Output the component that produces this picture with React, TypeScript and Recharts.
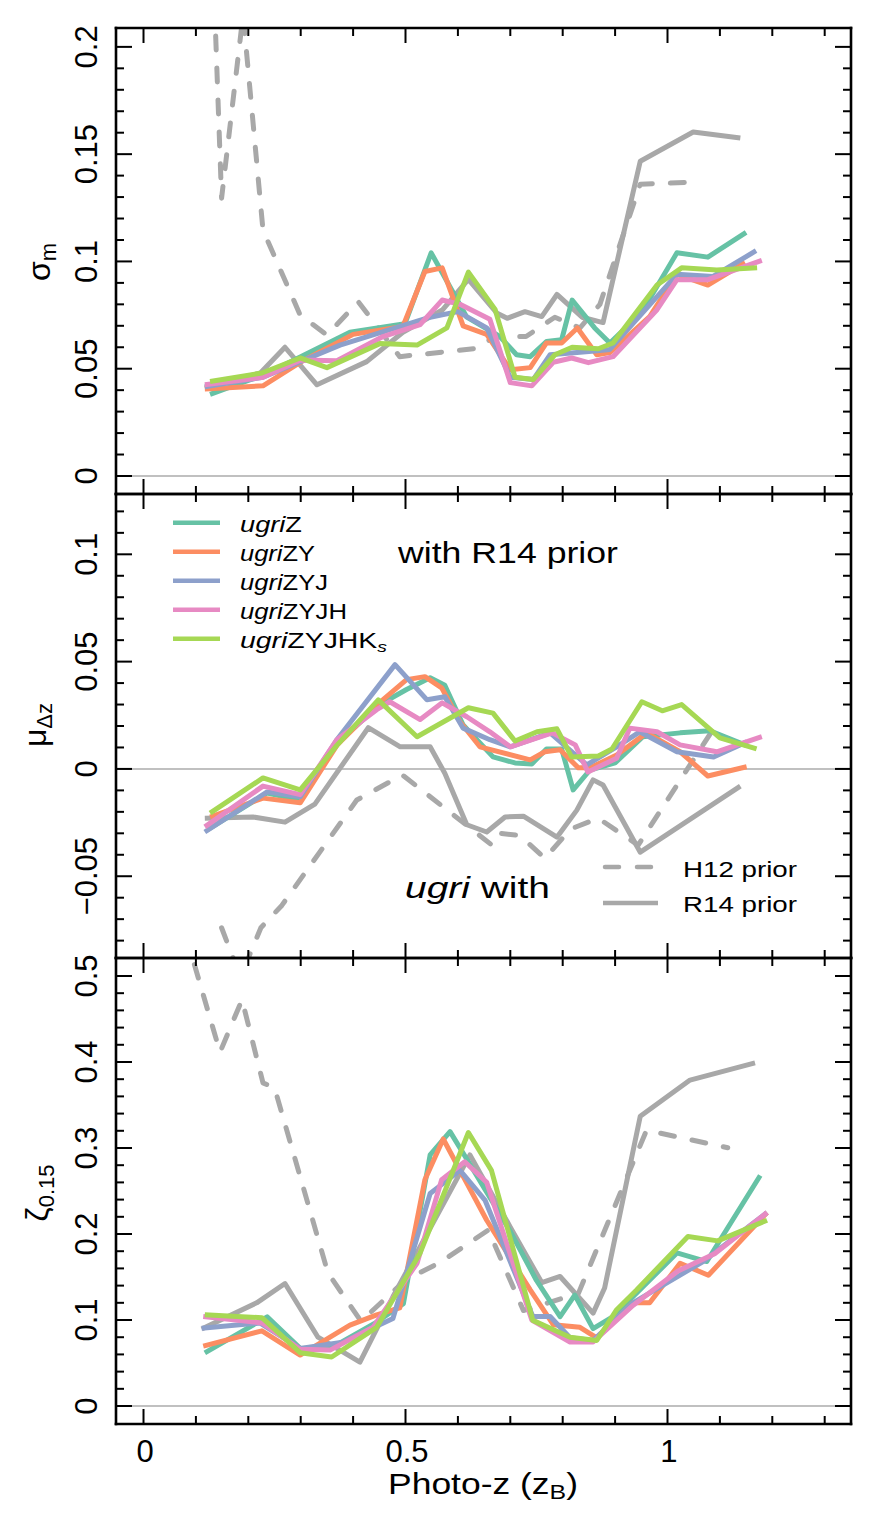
import React from 'react';
import { LineChart, Line, XAxis, YAxis, ReferenceLine } from 'recharts';

type Pt = [number, number];

// ---------------- data ----------------
const xTickValues = [0, 0.1, 0.2, 0.3, 0.4, 0.5, 0.6, 0.7, 0.8, 0.9, 1.0, 1.1, 1.2, 1.3];
const xTickLabelValues = [0, 0.5, 1];

const seriesNames = ['ugriZ', 'ugriZY', 'ugriZYJ', 'ugriZYJH', 'ugriZYJHKs'];
const priorNames = ['H12 prior', 'R14 prior'];

// Panel 1: sigma_m
const sigmaZ: Pt[] = [[0.127,0.038],[0.228,0.047],[0.299,0.0555],[0.394,0.067],[0.499,0.071],[0.549,0.104],[0.617,0.074],[0.68,0.065],[0.712,0.0565],[0.738,0.0556],[0.769,0.0627],[0.798,0.0635],[0.818,0.082],[0.861,0.069],[0.89,0.062],[0.95,0.076],[1.018,0.104],[1.077,0.102],[1.15,0.1135]];
const sigmaZY: Pt[] = [[0.117,0.0405],[0.228,0.042],[0.299,0.053],[0.40,0.066],[0.495,0.0697],[0.537,0.0953],[0.57,0.097],[0.61,0.070],[0.655,0.066],[0.70,0.0495],[0.738,0.0505],[0.769,0.062],[0.798,0.062],[0.828,0.069],[0.865,0.0565],[0.89,0.0575],[0.966,0.0743],[1.018,0.094],[1.077,0.089],[1.148,0.0995]];
const sigmaZYJ: Pt[] = [[0.117,0.0416],[0.228,0.046],[0.375,0.061],[0.547,0.074],[0.60,0.0766],[0.655,0.069],[0.70,0.046],[0.744,0.045],[0.776,0.0565],[0.85,0.058],[0.89,0.059],[1.018,0.094],[1.087,0.093],[1.169,0.105]];
const sigmaZYJH: Pt[] = [[0.117,0.0425],[0.228,0.046],[0.299,0.054],[0.369,0.0537],[0.457,0.065],[0.528,0.0706],[0.57,0.082],[0.604,0.080],[0.661,0.073],[0.70,0.0435],[0.741,0.042],[0.782,0.053],[0.817,0.055],[0.849,0.0528],[0.896,0.0556],[0.98,0.0775],[1.018,0.0915],[1.077,0.0915],[1.18,0.1005]];
const sigmaZYJHK: Pt[] = [[0.127,0.044],[0.226,0.048],[0.299,0.055],[0.35,0.0505],[0.451,0.0617],[0.522,0.061],[0.579,0.069],[0.62,0.095],[0.671,0.0776],[0.709,0.046],[0.744,0.045],[0.785,0.0565],[0.818,0.060],[0.868,0.0593],[0.896,0.062],[0.98,0.089],[1.027,0.097],[1.094,0.096],[1.171,0.097]];
const sigmaR14: Pt[] = [[0.117,0.041],[0.223,0.048],[0.27,0.06],[0.331,0.0425],[0.426,0.0533],[0.495,0.067],[0.571,0.0775],[0.62,0.0916],[0.674,0.076],[0.694,0.0735],[0.728,0.0766],[0.760,0.0743],[0.789,0.0846],[0.837,0.074],[0.877,0.0715],[0.948,0.1467],[1.049,0.1603],[1.139,0.1575]];
const sigmaH12: Pt[] = [[0.1355,0.22],[0.149,0.1295],[0.19,0.215],[0.228,0.1146],[0.299,0.075],[0.35,0.0657],[0.41,0.0812],[0.489,0.0556],[0.636,0.0595],[0.67,0.065],[0.73,0.065],[0.785,0.074],[0.833,0.069],[0.871,0.08],[0.948,0.136],[1.056,0.137]];

// Panel 2: mu_dz
const muZ: Pt[] = [[0.121,-0.0285],[0.236,-0.0112],[0.299,-0.0145],[0.369,0.012],[0.451,0.030],[0.502,0.037],[0.547,0.0425],[0.575,0.039],[0.61,0.0205],[0.667,0.0056],[0.709,0.0028],[0.741,0.0023],[0.769,0.0093],[0.798,0.0093],[0.82,-0.0098],[0.852,-0.0005],[0.9,0.0028],[0.953,0.015],[1.024,0.0168],[1.081,0.0178],[1.15,0.011]];
const muZY: Pt[] = [[0.127,-0.0224],[0.228,-0.0136],[0.299,-0.0158],[0.369,0.011],[0.451,0.031],[0.502,0.0416],[0.537,0.043],[0.569,0.0378],[0.604,0.022],[0.642,0.0103],[0.738,0.0042],[0.766,0.008],[0.795,0.0089],[0.83,0.0005],[0.852,0.0005],[0.903,0.0065],[0.96,0.0168],[1.024,0.008],[1.077,-0.0033],[1.151,0.001]];
const muZYJ: Pt[] = [[0.117,-0.0294],[0.236,-0.0107],[0.299,-0.013],[0.369,0.0136],[0.48,0.0486],[0.541,0.0322],[0.575,0.0336],[0.61,0.019],[0.661,0.0136],[0.70,0.0103],[0.776,0.0168],[0.846,0.0019],[0.903,0.0103],[0.947,0.0173],[1.018,0.008],[1.088,0.0056],[1.151,0.0126]];
const muZYJH: Pt[] = [[0.117,-0.027],[0.228,-0.008],[0.299,-0.012],[0.369,0.0136],[0.445,0.0276],[0.47,0.0313],[0.528,0.023],[0.57,0.0308],[0.617,0.0243],[0.661,0.0173],[0.70,0.0103],[0.78,0.0168],[0.824,0.0112],[0.848,-0.0014],[0.903,0.005],[0.928,0.019],[0.98,0.0173],[1.024,0.0112],[1.094,0.008],[1.18,0.015]];
const muZYJHK: Pt[] = [[0.127,-0.0206],[0.228,-0.0042],[0.299,-0.0098],[0.369,0.011],[0.448,0.0322],[0.522,0.015],[0.62,0.0285],[0.667,0.026],[0.709,0.013],[0.751,0.0173],[0.789,0.0187],[0.817,0.0056],[0.868,0.006],[0.894,0.0093],[0.951,0.0313],[0.99,0.0271],[1.027,0.030],[1.10,0.0145],[1.17,0.0093]];
const muR14: Pt[] = [[0.117,-0.023],[0.209,-0.0224],[0.27,-0.0248],[0.327,-0.0164],[0.429,0.0192],[0.49,0.0103],[0.547,0.0103],[0.575,-0.002],[0.617,-0.026],[0.655,-0.0294],[0.69,-0.0224],[0.725,-0.022],[0.789,-0.0318],[0.827,-0.0192],[0.858,-0.0051],[0.877,-0.0075],[0.948,-0.0388],[1.139,-0.008]];
const muH12: Pt[] = [[0.149,-0.074],[0.185,-0.097],[0.224,-0.074],[0.264,-0.0636],[0.407,-0.0145],[0.494,-0.0028],[0.665,-0.0355],[0.68,-0.030],[0.718,-0.031],[0.766,-0.0416],[0.815,-0.028],[0.868,-0.023],[0.944,-0.0355],[1.09,0.0196]];

// Panel 3: zeta_0.15
const zetaZ: Pt[] = [[0.117,0.0617],[0.236,0.1037],[0.299,0.067],[0.36,0.068],[0.44,0.0956],[0.496,0.119],[0.547,0.292],[0.585,0.319],[0.62,0.284],[0.70,0.203],[0.75,0.146],[0.795,0.104],[0.823,0.129],[0.858,0.090],[0.896,0.104],[1.018,0.178],[1.075,0.168],[1.177,0.268]];
const zetaZY: Pt[] = [[0.114,0.0696],[0.226,0.0874],[0.299,0.0593],[0.394,0.094],[0.445,0.106],[0.489,0.114],[0.537,0.263],[0.572,0.3105],[0.655,0.216],[0.738,0.135],[0.782,0.0946],[0.833,0.0915],[0.865,0.0793],[0.934,0.12],[0.966,0.12],[1.024,0.166],[1.078,0.152],[1.19,0.225]];
const zetaZYJ: Pt[] = [[0.111,0.0905],[0.222,0.0966],[0.299,0.067],[0.38,0.0742],[0.476,0.1017],[0.547,0.247],[0.604,0.274],[0.652,0.239],[0.743,0.104],[0.776,0.104],[0.814,0.0793],[0.858,0.0762],[0.934,0.12],[1.068,0.168],[1.19,0.225]];
const zetaZYJH: Pt[] = [[0.114,0.104],[0.226,0.0966],[0.299,0.066],[0.356,0.065],[0.438,0.0915],[0.522,0.166],[0.569,0.263],[0.613,0.284],[0.655,0.26],[0.741,0.1],[0.814,0.0744],[0.858,0.0744],[0.934,0.117],[1.02,0.157],[1.09,0.177],[1.19,0.225]];
const zetaZYJHK: Pt[] = [[0.117,0.106],[0.226,0.1027],[0.299,0.062],[0.359,0.057],[0.445,0.0915],[0.528,0.178],[0.62,0.318],[0.664,0.274],[0.743,0.0996],[0.814,0.08],[0.865,0.0762],[0.903,0.112],[0.941,0.135],[1.039,0.197],[1.096,0.192],[1.19,0.216]];
const zetaR14: Pt[] = [[0.111,0.0895],[0.216,0.12],[0.27,0.1424],[0.333,0.08],[0.413,0.051],[0.476,0.127],[0.623,0.292],[0.70,0.208],[0.76,0.1435],[0.795,0.1506],[0.858,0.108],[0.88,0.1373],[0.948,0.337],[1.043,0.379],[1.167,0.399]];
const zetaH12: Pt[] = [[0.08,0.549],[0.146,0.4114],[0.188,0.4724],[0.228,0.3757],[0.25,0.37],[0.352,0.1547],[0.415,0.0986],[0.50,0.1465],[0.566,0.167],[0.658,0.2046],[0.725,0.111],[0.83,0.131],[0.96,0.3207],[1.115,0.3003]];

// ---------------- styling ----------------
const FONT = '"Liberation Sans", Arial, Helvetica, sans-serif';
const COLORS = ['#66C2A5', '#FC8D62', '#8DA0CB', '#E78AC3', '#A6D854'];
const GRAY = '#A8A8A8';
const ZERO_GRAY = '#C0C0C0';
const DASH = '14 18';
const LINE_W = 5;
const W = 880;
const H = 1540;
const LEFT = 116;
const RIGHT = 851;
const X_DOMAIN: [number, number] = [-0.0525, 1.3502];

const range = (a: number, b: number) => Array.from({ length: b - a + 1 }, (_, i) => a + i);
const isMul = (v: number, step: number) => Math.abs(v / step - Math.round(v / step)) < 1e-6;
const fmt = (v: number) => String(parseFloat(v.toFixed(3))).replace('-', '\u2212');
const rows = (pts: Pt[]) => pts.map(([z, v]) => ({ z, v }));

type PanelCfg = {
  top: number;
  bottom: number;
  domain: [number, number];
  yTicks: number[];
  major: number;
  colored: Pt[][];
  h12: Pt[];
  r14: Pt[];
  xLabels: boolean;
};

const panels: PanelCfg[] = [
  { top: 28, bottom: 494, domain: [-0.0084, 0.2088], yTicks: range(0, 20).map((i) => i / 100), major: 0.05,
    colored: [sigmaZ, sigmaZY, sigmaZYJ, sigmaZYJH, sigmaZYJHK], h12: sigmaH12, r14: sigmaR14, xLabels: false },
  { top: 494, bottom: 958, domain: [-0.0881, 0.1281], yTicks: range(-8, 12).map((i) => i / 100), major: 0.05,
    colored: [muZ, muZY, muZYJ, muZYJH, muZYJHK], h12: muH12, r14: muR14, xLabels: false },
  { top: 958, bottom: 1424, domain: [-0.0209, 0.5209], yTicks: range(0, 25).map((i) => (i * 2) / 100), major: 0.1,
    colored: [zetaZ, zetaZY, zetaZYJ, zetaZYJH, zetaZYJHK], h12: zetaH12, r14: zetaR14, xLabels: true },
];

const coordOf = (p: any, fallback: number) => {
  const c = p && p.payload && typeof p.payload.coordinate === 'number' ? p.payload.coordinate : fallback;
  return c as number;
};

const xTick = (pos: number, dir: number, labels: boolean) => (p: any) => {
  const v = p.payload.value as number;
  const x = coordOf(p, p.x);
  const major = isMul(v, 0.5);
  const len = major ? 15 : 8;
  const showLabel = labels && xTickLabelValues.some((t) => Math.abs(t - v) < 1e-6);
  return (
    <g>
      <line x1={x} x2={x} y1={pos} y2={pos + dir * len} stroke="#000" strokeWidth={2} />
      {showLabel ? (
        <text x={x + 1.5} y={pos + 38} textAnchor="middle" fontSize={31} fontFamily={FONT} fill="#000">
          {fmt(v)}
        </text>
      ) : null}
    </g>
  );
};

const yTick = (pos: number, dir: number, majorStep: number, labels: boolean) => (p: any) => {
  const v = p.payload.value as number;
  const y = coordOf(p, p.y);
  const major = isMul(v, majorStep);
  const len = major ? 16 : 8;
  return (
    <g>
      <line x1={pos} x2={pos + dir * len} y1={y} y2={y} stroke="#000" strokeWidth={2} />
      {labels && major ? (
        <text x={97} y={y} transform={`rotate(-90 97 ${y})`} textAnchor="middle" fontSize={31} fontFamily={FONT} fill="#000">
          {fmt(v)}
        </text>
      ) : null}
    </g>
  );
};

const frameLine = { stroke: '#000', strokeWidth: 2.6, strokeLinecap: 'square' as const };

function Panel({ cfg }: { cfg: PanelCfg }) {
  // every axis takes 1px of room, so margins are reduced by 1px to keep the frame where it belongs
  return (
    <div style={{ position: 'absolute', left: 0, top: 0, width: W, height: H }}>
      <LineChart width={W} height={H}
        margin={{ top: cfg.top - 1, bottom: H - cfg.bottom - 1, left: LEFT - 1, right: W - RIGHT - 1 }}>
        <XAxis xAxisId="b" orientation="bottom" type="number" dataKey="z" domain={X_DOMAIN} allowDataOverflow
          ticks={xTickValues} interval={0} height={1} axisLine={frameLine} tickLine={false}
          tick={xTick(cfg.bottom, -1, cfg.xLabels)} />
        <XAxis xAxisId="t" orientation="top" type="number" dataKey="z" domain={X_DOMAIN} allowDataOverflow
          ticks={xTickValues} interval={0} height={1} axisLine={frameLine} tickLine={false}
          tick={xTick(cfg.top, 1, false)} />
        <YAxis yAxisId="l" orientation="left" type="number" domain={cfg.domain} allowDataOverflow
          ticks={cfg.yTicks} interval={0} width={1} axisLine={frameLine} tickLine={false}
          tick={yTick(LEFT, 1, cfg.major, true)} />
        <YAxis yAxisId="r" orientation="right" type="number" domain={cfg.domain} allowDataOverflow
          ticks={cfg.yTicks} interval={0} width={1} axisLine={frameLine} tickLine={false}
          tick={yTick(RIGHT, -1, cfg.major, false)} />
        <ReferenceLine xAxisId="b" yAxisId="l" y={0} stroke={ZERO_GRAY} strokeWidth={2} />
        <Line xAxisId="b" yAxisId="l" data={rows(cfg.h12)} dataKey="v" type="linear" stroke={GRAY} strokeWidth={LINE_W}
          strokeDasharray={DASH} strokeLinecap="round" strokeLinejoin="round"
          dot={false} activeDot={false} isAnimationActive={false} />
        <Line xAxisId="b" yAxisId="l" data={rows(cfg.r14)} dataKey="v" type="linear" stroke={GRAY} strokeWidth={LINE_W}
          strokeLinejoin="round" dot={false} activeDot={false} isAnimationActive={false} />
        {cfg.colored.map((pts, i) => (
          <Line key={seriesNames[i]} xAxisId="b" yAxisId="l" data={rows(pts)} dataKey="v" type="linear" stroke={COLORS[i]}
            strokeWidth={LINE_W} strokeLinejoin="round" dot={false} activeDot={false} isAnimationActive={false} />
        ))}
      </LineChart>
    </div>
  );
}

const legendBaselines = [531.5, 560.5, 589.5, 618.5, 647.5];
const legendWidths = [62, 75, 88, 107, 147];

function Overlay() {
  return (
    <svg width={W} height={H} style={{ position: 'absolute', left: 0, top: 0, pointerEvents: 'none' }} fontFamily={FONT}>
      {/* y axis titles */}
      <text x={50} y={262} transform="rotate(-90 50 262)" textAnchor="middle" fontSize={32} fill="#000">
        σ<tspan fontSize={22} dy={6}>m</tspan>
      </text>
      <text x={46} y={725} transform="rotate(-90 46 725)" textAnchor="middle" fontSize={32} fill="#000">
        μ<tspan fontSize={22} dy={6}>Δz</tspan>
      </text>
      <text x={48} y={1193} transform="rotate(-90 48 1193)" textAnchor="middle" fontSize={32} fill="#000">
        ζ<tspan fontSize={22} dy={6}>0.15</tspan>
      </text>
      {/* x axis title */}
      <text x={388} y={1494} fontSize={30} fill="#000" textLength={190} lengthAdjust="spacingAndGlyphs">
        Photo-z (z<tspan fontSize={21} dy={5}>B</tspan><tspan dy={-5}>)</tspan>
      </text>
      {/* colored legend */}
      {seriesNames.map((name, i) => (
        <g key={name}>
          <line x1={173} x2={220} y1={legendBaselines[i] - 8.8} y2={legendBaselines[i] - 8.8} stroke={COLORS[i]} strokeWidth={4.5} />
          <text x={240} y={legendBaselines[i]} fontSize={22} fill="#000" textLength={legendWidths[i]} lengthAdjust="spacingAndGlyphs">
            <tspan fontStyle="italic">ugri</tspan>
            {name.endsWith('Ks') ? (
              <>
                <tspan>ZYJHK</tspan>
                <tspan fontSize={15} fontStyle="italic" dy={4}>s</tspan>
              </>
            ) : (
              <tspan>{name.slice(4)}</tspan>
            )}
          </text>
        </g>
      ))}
      <text x={398} y={563} fontSize={29} fill="#000" textLength={220} lengthAdjust="spacingAndGlyphs">with R14 prior</text>
      {/* gray legend */}
      <text x={405} y={898} fontSize={29} fill="#000" textLength={145} lengthAdjust="spacingAndGlyphs">
        <tspan fontStyle="italic">ugri</tspan> with
      </text>
      <line x1={605} x2={658} y1={867} y2={867} stroke={GRAY} strokeWidth={4.5} strokeDasharray={DASH} strokeLinecap="round" />
      <line x1={603} x2={658} y1={903} y2={903} stroke={GRAY} strokeWidth={4.5} />
      <text x={683} y={877} fontSize={22} fill="#000" textLength={114} lengthAdjust="spacingAndGlyphs">{priorNames[0]}</text>
      <text x={683} y={912} fontSize={22} fill="#000" textLength={114} lengthAdjust="spacingAndGlyphs">{priorNames[1]}</text>
    </svg>
  );
}

export default function App() {
  return (
    <div style={{ position: 'absolute', left: 0, top: 0, width: W, height: H, background: '#fff' }}>
      {panels.map((cfg, i) => (
        <Panel key={i} cfg={cfg} />
      ))}
      <Overlay />
    </div>
  );
}
